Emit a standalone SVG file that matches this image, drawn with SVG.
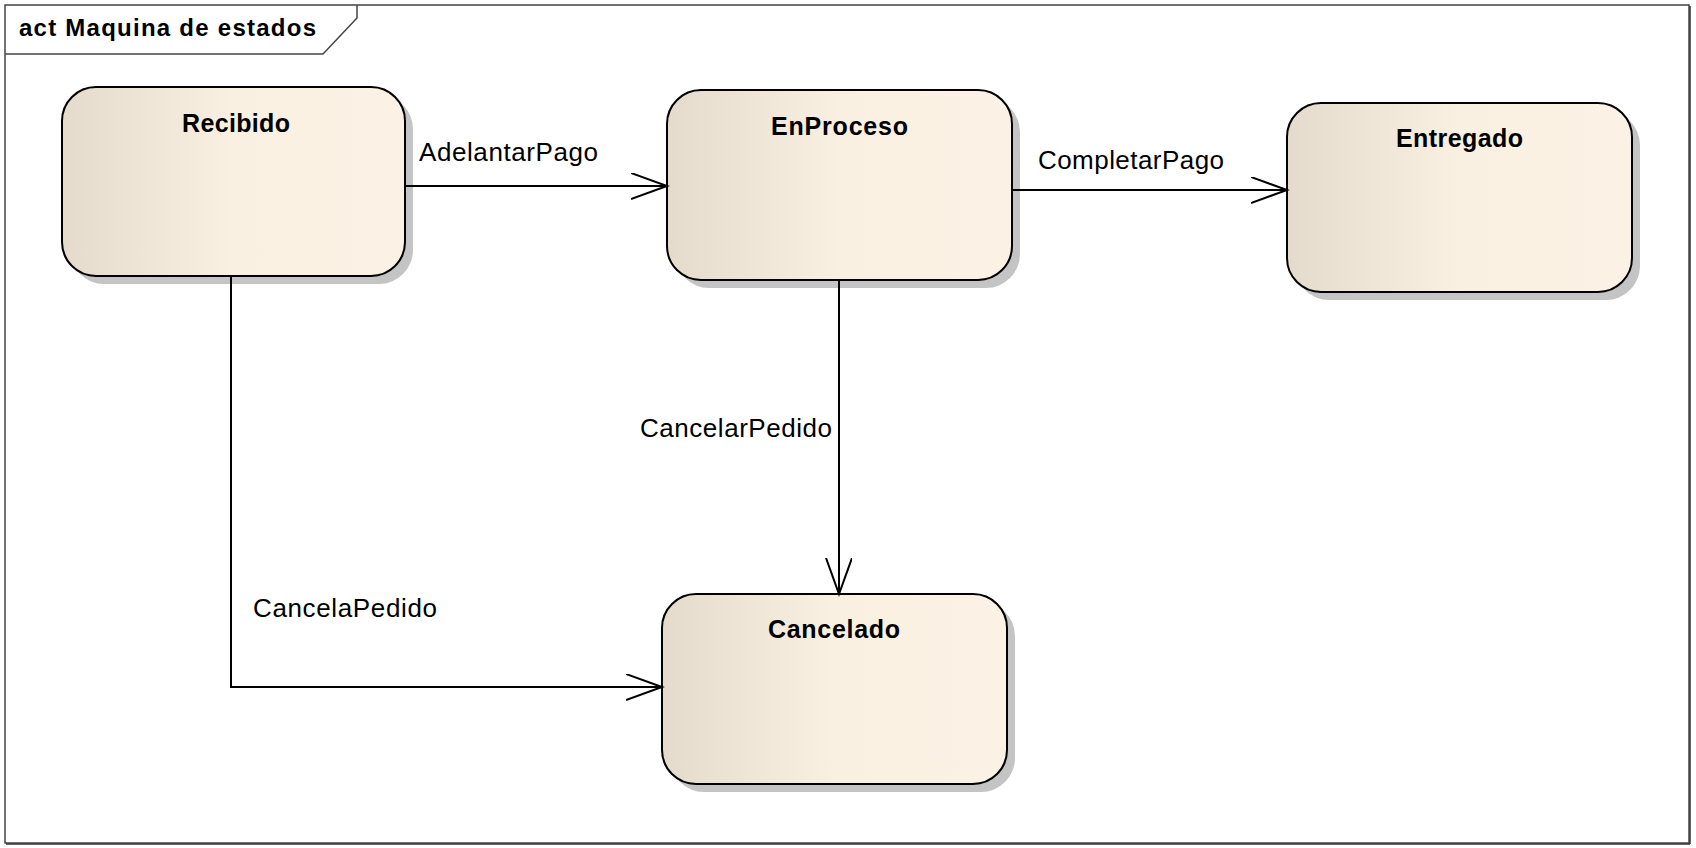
<svg xmlns="http://www.w3.org/2000/svg" width="1696" height="848" viewBox="0 0 1696 848">
<defs>
<linearGradient id="fill" x1="0" y1="0" x2="1" y2="0">
<stop offset="0" stop-color="#E4DBCC"/>
<stop offset="0.5" stop-color="#FAF0E2"/>
<stop offset="1" stop-color="#FBF2E5"/>
</linearGradient>
<marker id="open" markerWidth="40" markerHeight="30" refX="36" refY="13" orient="auto" markerUnits="userSpaceOnUse">
<polyline points="0,0 36,13 0,26" fill="none" stroke="#000" stroke-width="2"/>
</marker>
</defs>
<style>
.shadow{fill:#C4C4C4;}
.box{fill:url(#fill);stroke:#000;stroke-width:2;}
.title{font-family:"Liberation Sans",Arial,sans-serif;font-weight:bold;font-size:25px;fill:#000;}
.lbl{font-family:"Liberation Sans",Arial,sans-serif;font-size:26px;fill:#000;}
.conn{fill:none;stroke:#000;stroke-width:2;}
.frame{fill:none;stroke:#444;stroke-width:1.5;}
</style>
<rect x="0" y="0" width="1696" height="848" fill="#fff"/>
<g id="frame">
<rect class="frame" x="5" y="5" width="1684" height="838"/>
<line x1="1690" y1="6" x2="1690" y2="844" stroke="#333" stroke-width="1.5"/>
<line x1="6" y1="844" x2="1690" y2="844" stroke="#333" stroke-width="1.5"/>
<polyline class="frame" points="5,54 323,54 357,18 357,5"/>
<text x="19" y="36" font-family="'Liberation Sans',Arial,sans-serif" font-weight="bold" font-size="24" textLength="297" lengthAdjust="spacing">act Maquina de estados</text>
</g>
<g id="Recibido">
<rect class="shadow" x="70" y="95" width="343" height="189" rx="34" ry="34"/>
<rect class="box" x="62" y="87" width="343" height="189" rx="34" ry="34"/>
<text class="title" x="182" y="131.5" textLength="108" lengthAdjust="spacing">Recibido</text>
</g>
<g id="EnProceso">
<rect class="shadow" x="675" y="98" width="345" height="190" rx="34" ry="34"/>
<rect class="box" x="667" y="90" width="345" height="190" rx="34" ry="34"/>
<text class="title" x="771" y="135" textLength="137" lengthAdjust="spacing">EnProceso</text>
</g>
<g id="Entregado">
<rect class="shadow" x="1295" y="111" width="345" height="189" rx="34" ry="34"/>
<rect class="box" x="1287" y="103" width="345" height="189" rx="34" ry="34"/>
<text class="title" x="1396" y="147" textLength="127" lengthAdjust="spacing">Entregado</text>
</g>
<g id="Cancelado">
<rect class="shadow" x="670" y="602" width="345" height="190" rx="34" ry="34"/>
<rect class="box" x="662" y="594" width="345" height="190" rx="34" ry="34"/>
<text class="title" x="768" y="638" textLength="132" lengthAdjust="spacing">Cancelado</text>
</g>
<g id="connectors">
<line class="conn" x1="405" y1="186" x2="667" y2="186" marker-end="url(#open)"/>
<line class="conn" x1="1012" y1="190" x2="1287" y2="190" marker-end="url(#open)"/>
<line class="conn" x1="839" y1="280" x2="839" y2="594" marker-end="url(#open)"/>
<polyline class="conn" points="231,276 231,687 662,687" marker-end="url(#open)"/>
<text class="lbl" x="419" y="161" textLength="179" lengthAdjust="spacing">AdelantarPago</text>
<text class="lbl" x="1038" y="169" textLength="186" lengthAdjust="spacing">CompletarPago</text>
<text class="lbl" x="640" y="437" textLength="192" lengthAdjust="spacing">CancelarPedido</text>
<text class="lbl" x="253" y="617" textLength="184" lengthAdjust="spacing">CancelaPedido</text>
</g>
</svg>
